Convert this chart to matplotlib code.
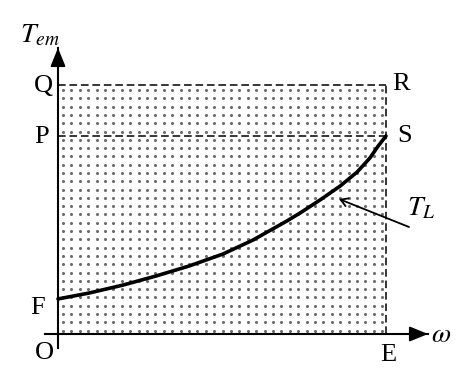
import numpy as np
import matplotlib
matplotlib.use("Agg")
import matplotlib.pyplot as plt

plt.rcParams['font.family'] = ['Liberation Serif', 'DejaVu Serif']
plt.rcParams['mathtext.fontset'] = 'stix'

# ---- data (normalised: E = 1 on speed axis, P/S = 1 on torque axis) ----
omega_L = [0.0, 0.095, 0.198, 0.299, 0.399, 0.503, 0.595, 0.698, 0.738, 0.799, 0.860, 0.912, 0.951, 0.976, 1.0]
torque_L = [0.177, 0.207, 0.247, 0.293, 0.343, 0.404, 0.475, 0.571, 0.611, 0.677, 0.747, 0.818, 0.889, 0.949, 1.0]
omega_E = 1.0
torque_P = 1.0
torque_Q = 1.258
point_labels = ['Q', 'P', 'F', 'O', 'E', 'R', 'S']

# pixel geometry helpers
W, H = 457, 375
X0, XE = 58, 386
Y0, YS = 334, 136
sx = (XE - X0) / omega_E
sy = (Y0 - YS) / torque_P

fig = plt.figure(figsize=(W / 100, H / 100), dpi=100)
ax = fig.add_axes([0, 0, 1, 1])
ax.set_xlim(-X0 / sx, (W - X0) / sx)
ax.set_ylim(-(H - Y0) / sy, Y0 / sy)
ax.axis('off')

# dotted fill (stipple) of the rectangle OQRE
dx_px, dy_px = 8.4, 8.3
gx = np.arange(63, XE - 2, dx_px)
gy = np.arange(90, Y0 + 1, dy_px)
GX, GY = np.meshgrid(gx, gy)
ax.scatter((GX.ravel() - X0) / sx, (Y0 - GY.ravel()) / sy, s=5,
           color='#6e6e6e', linewidths=0, zorder=1)

# dashed boundary lines
dash = dict(color='black', lw=1.1, ls=(0, (5, 2.5)), zorder=2)
ax.plot([0, omega_E], [torque_Q, torque_Q], **dash)
ax.plot([0, omega_E], [torque_P, torque_P], **dash)
ax.plot([omega_E, omega_E], [0, torque_Q], **dash)

# axes with arrows
ax.plot([-13 / sx, 370 / sx], [0, 0], color='black', lw=1.5, zorder=3)
ax.plot([0, 0], [-14 / sy, 286 / sy], color='black', lw=1.5, zorder=3)
ax.annotate('', xy=(370 / sx, 0), xytext=(355 / sx, 0),
            arrowprops=dict(arrowstyle='-|>,head_length=1.1,head_width=0.45',
                            color='black', lw=1.5, shrinkA=0, shrinkB=0))
ax.annotate('', xy=(0, 286 / sy), xytext=(0, 270 / sy),
            arrowprops=dict(arrowstyle='-|>,head_length=1.1,head_width=0.45',
                            color='black', lw=1.5, shrinkA=0, shrinkB=0))

# load torque curve
ax.plot(omega_L, torque_L, color='black', lw=2.6, solid_capstyle='round',
        solid_joinstyle='round', zorder=4)

# arrow pointing to T_L
ax.annotate('', xy=((339 - X0) / sx, (Y0 - 199) / sy),
            xytext=((409 - X0) / sx, (Y0 - 227) / sy),
            arrowprops=dict(arrowstyle='->,head_length=0.5,head_width=0.3',
                            color='black', lw=1.3, shrinkA=0, shrinkB=0))

def px(x, y):
    return (x - X0) / sx, (Y0 - y) / sy

fs = 19
ax.text(*px(43, 86), 'Q', fontsize=fs, ha='center', va='center')
ax.text(*px(42, 137), 'P', fontsize=fs, ha='center', va='center')
ax.text(*px(38, 308), 'F', fontsize=fs, ha='center', va='center')
ax.text(*px(44, 353), 'O', fontsize=fs, ha='center', va='center')
ax.text(*px(388, 355), 'E', fontsize=fs, ha='center', va='center')
ax.text(*px(401, 84), 'R', fontsize=fs, ha='center', va='center')
ax.text(*px(405, 136), 'S', fontsize=fs, ha='center', va='center')
ax.text(*px(441, 336), r'$\omega$', fontsize=fs + 1, ha='center', va='center')
ax.text(*px(40, 36), r'$T_{em}$', fontsize=fs + 1, ha='center', va='center')
ax.text(*px(421, 209), r'$T_{L}$', fontsize=fs + 1, ha='center', va='center')

fig.savefig('out.png', dpi=100)
